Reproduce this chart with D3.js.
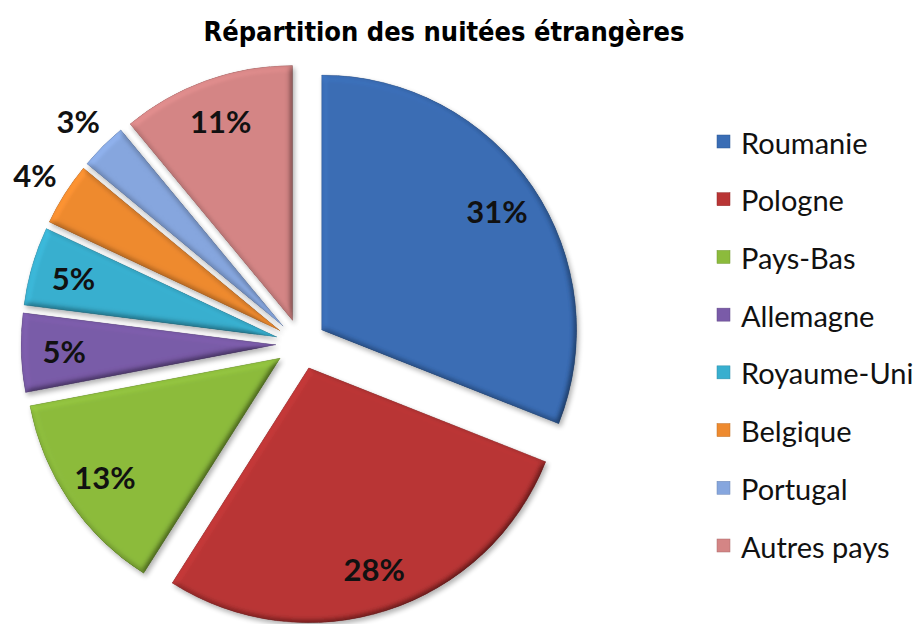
<!DOCTYPE html>
<html>
<head>
<meta charset="utf-8">
<script src="https://cdn.jsdelivr.net/npm/d3@7"></script>
<style>
  body { margin: 0; background: #fff; }
</style>
</head>
<body>
<div id="chart"></div>
<script>
const width = 922;
const height = 624;

// data
const countries = ["Roumanie", "Pologne", "Pays-Bas", "Allemagne", "Royaume-Uni", "Belgique", "Portugal", "Autres pays"];
const shares = [31, 28, 13, 5, 5, 4, 3, 11];
const colors = ["#3a6db5", "#b93535", "#8cbb3c", "#7a5ba8", "#38afcf", "#ee8a2f", "#86a6de", "#d48585"];

const cx = 301, cy = 344;
const radius = 255;
const explode = 25;

const svg = d3.select("#chart").append("svg")
    .attr("width", width)
    .attr("height", height);

const defs = svg.append("defs");

// bevel + soft shadow, roughly what Excel does
const bevel = defs.append("filter")
    .attr("id", "bevel")
    .attr("x", "-10%").attr("y", "-10%")
    .attr("width", "120%").attr("height", "120%");
bevel.append("feGaussianBlur").attr("in", "SourceAlpha").attr("stdDeviation", 3).attr("result", "blur");
bevel.append("feDiffuseLighting")
    .attr("in", "blur").attr("surfaceScale", 4).attr("diffuseConstant", 1)
    .attr("lighting-color", "#fff").attr("result", "light")
    .append("feDistantLight").attr("azimuth", 225).attr("elevation", 60);
bevel.append("feComposite")
    .attr("in", "SourceGraphic").attr("in2", "light")
    .attr("operator", "arithmetic").attr("k1", 1.15).attr("k2", 0).attr("k3", 0).attr("k4", 0)
    .attr("result", "lit");
bevel.append("feComposite").attr("in", "lit").attr("in2", "SourceAlpha").attr("operator", "in").attr("result", "shape");
bevel.append("feGaussianBlur").attr("in", "SourceAlpha").attr("stdDeviation", 2.5).attr("result", "sblur");
bevel.append("feOffset").attr("in", "sblur").attr("dx", 2).attr("dy", 3).attr("result", "soff");
bevel.append("feComponentTransfer").attr("in", "soff").attr("result", "shadow")
    .append("feFuncA").attr("type", "linear").attr("slope", 0.3);
const merge = bevel.append("feMerge");
merge.append("feMergeNode").attr("in", "shadow");
merge.append("feMergeNode").attr("in", "shape");

// title
svg.append("text")
    .attr("x", 444)
    .attr("y", 41)
    .attr("text-anchor", "middle")
    .style("font-family", "'DejaVu Sans Condensed', 'DejaVu Sans', sans-serif")
    .style("font-stretch", "condensed")
    .style("font-weight", "bold")
    .style("font-size", "27px")
    .style("fill", "#000")
    .text("Répartition des nuitées étrangères");

const pie = d3.pie().sort(null).value(d => d);
const arcs = pie(shares);

const arc = d3.arc().innerRadius(0).outerRadius(radius);

function offset(d, dist) {
    const a = (d.startAngle + d.endAngle) / 2;
    return [Math.sin(a) * dist, -Math.cos(a) * dist];
}

const g = svg.append("g").attr("transform", `translate(${cx},${cy})`);

g.selectAll(".slice")
    .data(arcs)
    .enter().append("path")
    .attr("class", "slice")
    .attr("transform", d => `translate(${offset(d, explode)})`)
    .attr("d", arc)
    .attr("fill", (d, i) => colors[i])
    .attr("stroke", (d, i) => d3.color(colors[i]).darker(0.6))
    .attr("stroke-width", 0.6)
    .attr("filter", "url(#bevel)");

// percentage labels, small slices get theirs outside
g.selectAll(".label")
    .data(arcs)
    .enter().append("text")
    .attr("class", "label")
    .attr("transform", d => {
        const o = offset(d, explode);
        const p = offset(d, d.data < 5 ? 290 : 212);
        return `translate(${o[0] + p[0]},${o[1] + p[1]})`;
    })
    .attr("text-anchor", "middle")
    .attr("dominant-baseline", "central")
    .style("font-family", "Lato, sans-serif")
    .style("font-weight", "bold")
    .style("font-size", "31px")
    .style("fill", "#111")
    .text(d => d.data + "%");

// legend
const ly = d3.scalePoint().domain(countries).range([141, 545]);
const legend = svg.append("g").attr("class", "legend");

const rows = legend.selectAll(".row")
    .data(countries)
    .enter().append("g")
    .attr("class", "row")
    .attr("transform", d => `translate(717,${ly(d)})`);

rows.append("rect")
    .attr("x", 0).attr("y", -6)
    .attr("width", 13).attr("height", 13)
    .attr("fill", (d, i) => colors[i])
    .attr("stroke", (d, i) => d3.color(colors[i]).darker(0.6))
    .attr("stroke-width", 0.5);

rows.append("text")
    .attr("x", 24)
    .attr("y", 1)
    .attr("dominant-baseline", "central")
    .style("font-family", "Lato, sans-serif")
    .style("font-size", "29px")
    .style("fill", "#111")
    .text(d => d);
</script>
</body>
</html>
